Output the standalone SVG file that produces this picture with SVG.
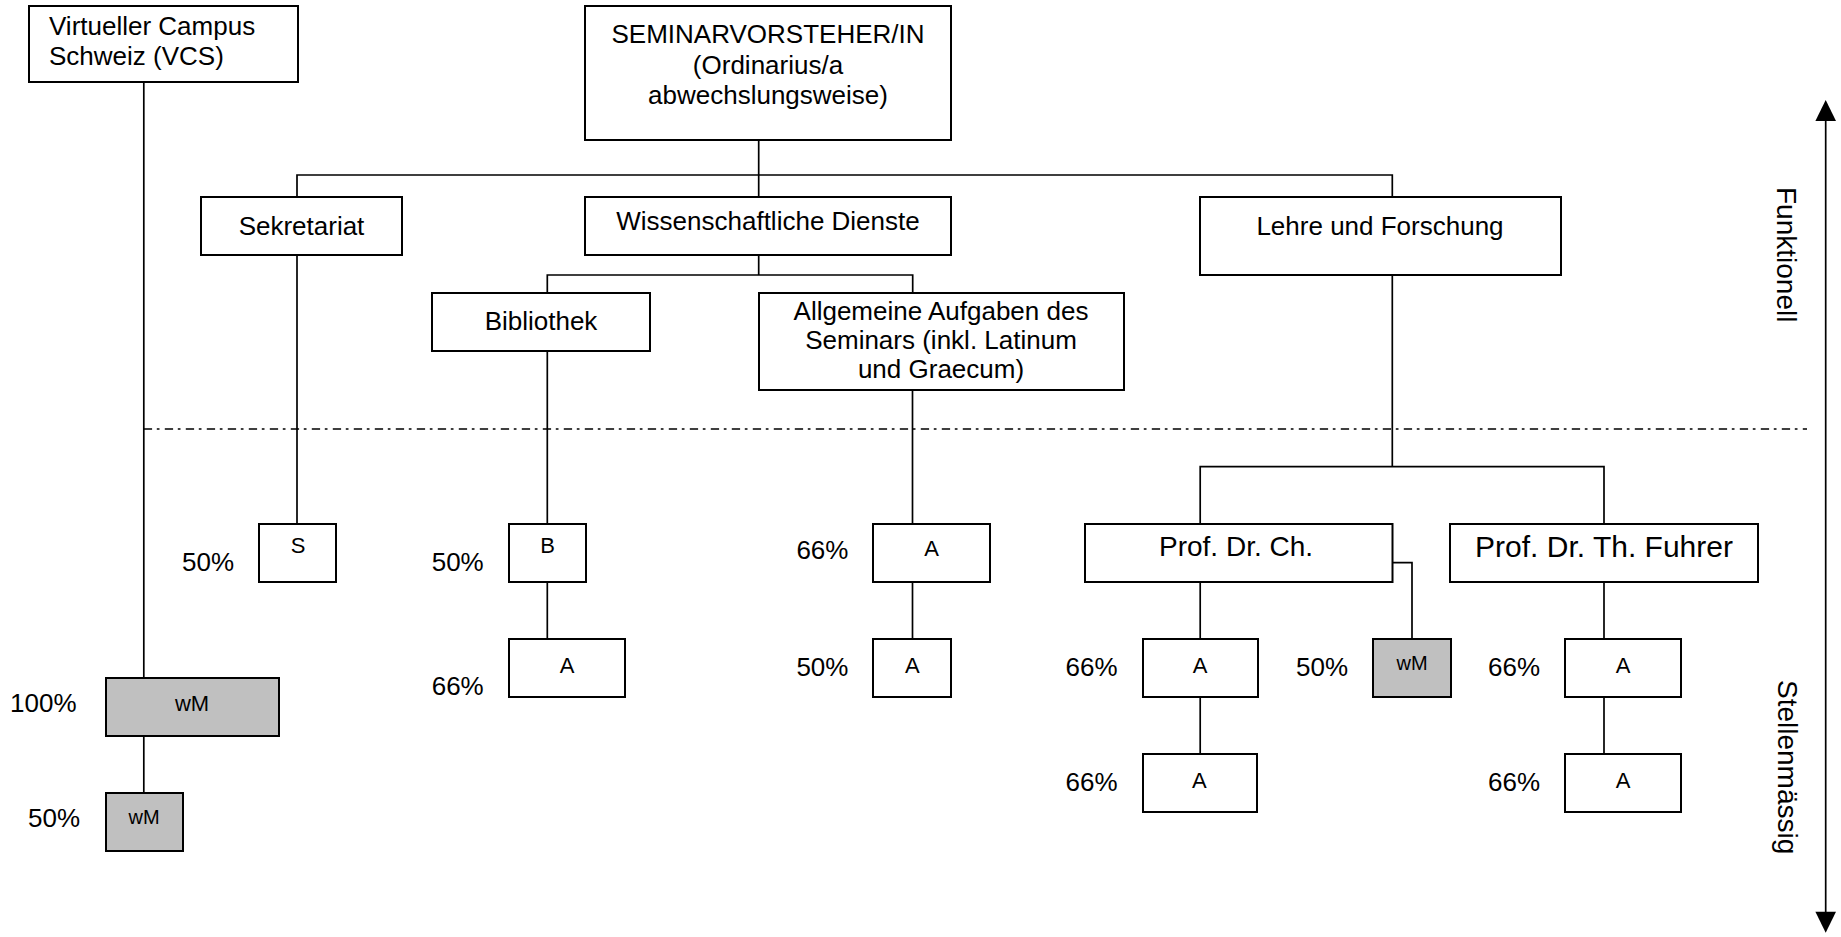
<svg xmlns="http://www.w3.org/2000/svg" width="1841" height="937" viewBox="0 0 1841 937">
<style>
  .box { fill: #ffffff; stroke: #000000; stroke-width: 2; }
  .grey { fill: #c0c0c0; stroke: #000000; stroke-width: 2; }
  .ln { fill: none; stroke: #000000; stroke-width: 1.7; }
  .dash { fill: none; stroke: #000000; stroke-width: 1.7; stroke-dasharray: 8.3 4.7 2.7 5.3; }
  text { font-family: "Liberation Sans", Arial, sans-serif; fill: #000000; }
  .t { font-size: 26px; }
  .c { text-anchor: middle; }
  .s { font-size: 22px; }
  .xs { font-size: 20px; }
  .p { font-size: 26px; }
  .r { font-size: 28px; }
</style>
<defs>
  <marker id="ah" viewBox="0 0 10 10" refX="0" refY="5" markerWidth="10" markerHeight="10" markerUnits="userSpaceOnUse" orient="auto">
    <path d="M0 0 L10 5 L0 10 Z" fill="#000"/>
  </marker>
</defs>
<rect x="0" y="0" width="1841" height="937" fill="#ffffff"/>

<g id="connectors">
  <path class="ln" d="M143.8 82 V678"/>
  <path class="ln" d="M143.8 736 V793"/>
  <path class="ln" d="M758.7 140 V197"/>
  <path class="ln" d="M297 197 V175 H1392.3 V197"/>
  <path class="ln" d="M297 255 V524"/>
  <path class="ln" d="M1392.3 275 V466.7"/>
  <path class="ln" d="M758.7 255 V275"/>
  <path class="ln" d="M547.3 293 V275 H912.7 V293"/>
  <path class="ln" d="M547.3 351.7 V524"/>
  <path class="ln" d="M547.3 582 V639"/>
  <path class="ln" d="M912.5 390 V524"/>
  <path class="ln" d="M912.5 582 V639"/>
  <path class="ln" d="M1200.2 524.3 V466.7 H1604 V524.3"/>
  <path class="ln" d="M1200.2 582.3 V639.3"/>
  <path class="ln" d="M1200.2 697.3 V754.3"/>
  <path class="ln" d="M1392.5 562.7 H1412 V639.3"/>
  <path class="ln" d="M1604 582.3 V639.3"/>
  <path class="ln" d="M1604 697.3 V754.3"/>
  <path class="dash" d="M143.8 429 H1807"/>
  <path class="ln" d="M1825.7 118 V914" stroke-width="2"/>
  <path d="M1825.7 100 L1836 121 L1815.4 121 Z" fill="#000"/>
  <path d="M1825.7 932.7 L1836 911.7 L1815.4 911.7 Z" fill="#000"/>
</g>

<g id="vcs">
  <rect class="box" x="29" y="6" width="269" height="76"/>
  <text class="t" x="49" y="35">Virtueller Campus</text>
  <text class="t" x="49" y="65">Schweiz (VCS)</text>
</g>
<g id="seminarvorsteher">
  <rect class="box" x="585" y="6" width="366" height="134"/>
  <text class="t c" x="768" y="43">SEMINARVORSTEHER/IN</text>
  <text class="t c" x="768" y="74">(Ordinarius/a</text>
  <text class="t c" x="768" y="104">abwechslungsweise)</text>
</g>
<g id="sekretariat">
  <rect class="box" x="201" y="197" width="201" height="58"/>
  <text class="t c" x="301.5" y="235">Sekretariat</text>
</g>
<g id="wissenschaftliche">
  <rect class="box" x="585" y="197" width="366" height="58"/>
  <text class="t c" x="768" y="230">Wissenschaftliche Dienste</text>
</g>
<g id="lehre">
  <rect class="box" x="1200" y="197" width="361" height="78"/>
  <text class="t c" x="1380" y="235">Lehre und Forschung</text>
</g>
<g id="bibliothek">
  <rect class="box" x="432" y="293" width="218" height="58"/>
  <text class="t c" x="541" y="330">Bibliothek</text>
</g>
<g id="allgemeine">
  <rect class="box" x="759" y="293" width="365" height="97"/>
  <text class="t c" x="941" y="320">Allgemeine Aufgaben des</text>
  <text class="t c" x="941" y="349">Seminars (inkl. Latinum</text>
  <text class="t c" x="941" y="378">und Graecum)</text>
</g>
<g id="s-sekretariat">
  <rect class="box" x="259" y="524" width="77" height="58"/>
  <text class="s c" x="298" y="553">S</text>
  <text class="p" x="182" y="571">50%</text>
</g>
<g id="b-bibliothek">
  <rect class="box" x="509" y="524" width="77" height="58"/>
  <text class="s c" x="547.5" y="553">B</text>
  <text class="p" x="431.7" y="571">50%</text>
</g>
<g id="a-bibliothek">
  <rect class="box" x="509" y="639" width="116" height="58"/>
  <text class="s c" x="567" y="673">A</text>
  <text class="p" x="431.7" y="695">66%</text>
</g>
<g id="a-allg-1">
  <rect class="box" x="873" y="524" width="117" height="58"/>
  <text class="s c" x="931.5" y="556">A</text>
  <text class="p" x="796.4" y="559">66%</text>
</g>
<g id="a-allg-2">
  <rect class="box" x="873" y="639" width="78" height="58"/>
  <text class="s c" x="912.4" y="673">A</text>
  <text class="p" x="796.4" y="676">50%</text>
</g>
<g id="prof-ch">
  <rect class="box" x="1085" y="524" width="307.5" height="58"/>
  <text class="r" x="1159" y="556">Prof. Dr. Ch.</text>
</g>
<g id="a-ch-1">
  <rect class="box" x="1143" y="639" width="115" height="58"/>
  <text class="s c" x="1200.2" y="673">A</text>
  <text class="p" x="1065.5" y="676">66%</text>
</g>
<g id="a-ch-2">
  <rect class="box" x="1143" y="754" width="114" height="58"/>
  <text class="s c" x="1199.4" y="788">A</text>
  <text class="p" x="1065.5" y="791">66%</text>
</g>
<g id="wm-ch">
  <rect class="grey" x="1373" y="639" width="78" height="58"/>
  <text class="xs c" x="1412" y="670">wM</text>
  <text class="p" x="1296" y="676">50%</text>
</g>
<g id="prof-fuhrer">
  <rect class="box" x="1450" y="524" width="308" height="58"/>
  <text class="c" x="1604" y="557" font-size="30">Prof. Dr. Th. Fuhrer</text>
</g>
<g id="a-fuhrer-1">
  <rect class="box" x="1565" y="639" width="116" height="58"/>
  <text class="s c" x="1623" y="673">A</text>
  <text class="p" x="1488" y="676">66%</text>
</g>
<g id="a-fuhrer-2">
  <rect class="box" x="1565" y="754" width="116" height="58"/>
  <text class="s c" x="1623" y="788">A</text>
  <text class="p" x="1488" y="791">66%</text>
</g>
<g id="wm-vcs-1">
  <rect class="grey" x="106" y="678" width="173" height="58"/>
  <text class="s c" x="192" y="711">wM</text>
  <text class="p" x="10" y="712">100%</text>
</g>
<g id="wm-vcs-2">
  <rect class="grey" x="106" y="793" width="77" height="58"/>
  <text class="xs c" x="144" y="824">wM</text>
  <text class="p" x="28" y="827">50%</text>
</g>
<g id="axis-labels">
  <text class="r" transform="translate(1777,187) rotate(90)">Funktionell</text>
  <text class="r" transform="translate(1778,680) rotate(90)">Stellenmässig</text>
</g>
</svg>
